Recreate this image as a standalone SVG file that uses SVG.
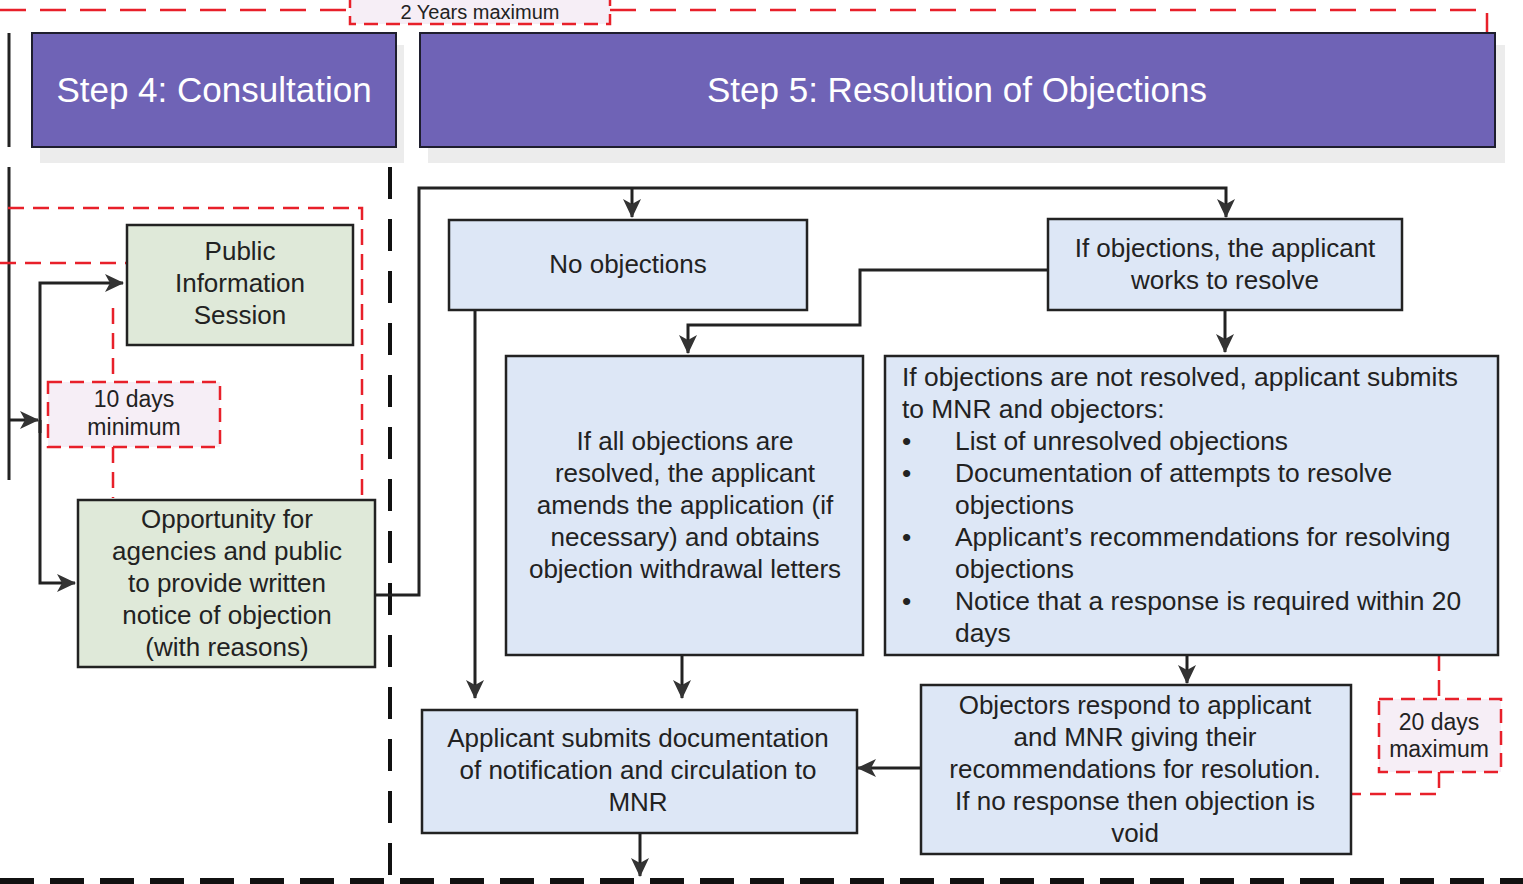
<svg xmlns="http://www.w3.org/2000/svg" width="1523" height="884" viewBox="0 0 1523 884">
<style>
text{font-family:"Liberation Sans",Arial,sans-serif;fill:#222;}
.hdr{fill:#6f63b6;stroke:#1e1e2e;stroke-width:2;}
.hdrt{fill:#fff;font-size:35px;text-anchor:middle;}
.shadow{fill:#ececec;}
.blue{fill:#dde7f6;stroke:#222;stroke-width:2.5;}
.green{fill:#dfe9d9;stroke:#222;stroke-width:2.5;}
.pink{fill:#f6eef6;stroke:#e8202a;stroke-width:2.5;stroke-dasharray:14 8;}
.t{font-size:26px;text-anchor:middle;}
.tl{font-size:26.4px;}
.ts{font-size:23px;text-anchor:middle;}
.conn{fill:none;stroke:#222;stroke-width:3;}
.arr{marker-end:url(#ah);}
.red{fill:none;stroke:#e8202a;stroke-width:2.5;stroke-dasharray:16 9;}
.redtop{fill:none;stroke:#e8202a;stroke-width:2.5;stroke-dasharray:26 14;}
.div{fill:none;stroke:#111;stroke-width:4;stroke-dasharray:32 20;}
.bot{fill:none;stroke:#111;stroke-width:6;stroke-dasharray:34 16;}
</style>
<defs>
<marker id="ah" markerUnits="userSpaceOnUse" markerWidth="20" markerHeight="20" viewBox="0 0 20 20" refX="18" refY="10" orient="auto">
<path d="M0,1 L19,10 L0,19 L5,10 z" fill="#333"/>
</marker>
</defs>
<rect width="1523" height="884" fill="#fff"/>

<g id="frame">
<path class="redtop" d="M0,10 H350 M610,10 H1487 V33"/>
<path class="conn" d="M9,33 V147 M9,167 V480"/>
<path class="div" d="M390,167 V880"/>
<path class="bot" d="M0,881 H1523"/>
<path class="red" d="M8,208 H362 V500"/>
<path class="red" d="M0,263 H127"/>
<path class="red" d="M113,308 V382 M113,447 V498"/>
<path class="red" d="M1439,655 V699 M1439,772 V794 H1351"/>
</g>

<g id="years">
<rect x="350" y="-12" width="260" height="36" class="pink"/>
<text x="480" y="19" class="ts" style="font-size:20px">2 Years maximum</text>
</g>

<g id="step4">
<rect x="40" y="45" width="364" height="118" class="shadow"/>
<rect x="32" y="33" width="364" height="114" class="hdr"/>
<text x="214" y="102" class="hdrt">Step 4: Consultation</text>
</g>
<g id="step5">
<rect x="428" y="45" width="1077" height="118" class="shadow"/>
<rect x="420" y="33" width="1075" height="114" class="hdr"/>
<text x="957" y="102" class="hdrt">Step 5: Resolution of Objections</text>
</g>

<g id="connectors">
<path class="conn arr" d="M10,420 H38"/>
<path class="conn arr" d="M40,433 V283 H123"/>
<path class="conn arr" d="M40,420 V583 H75"/>
<path class="conn arr" d="M375,595 H419 V188 H1226 V217"/>
<path class="conn arr" d="M632,188 V217"/>
<path class="conn arr" d="M1048,270 H860 V325 H688 V353"/>
<path class="conn arr" d="M1225,310 V352"/>
<path class="conn arr" d="M475,310 V698"/>
<path class="conn arr" d="M682,655 V698"/>
<path class="conn arr" d="M1187,655 V683"/>
<path class="conn arr" d="M921,768 H858"/>
<path class="conn arr" d="M640,833 V876"/>
</g>

<g id="public-info">
<rect x="127" y="225" width="226" height="120" class="green"/>
<text class="t" x="240" y="260">Public</text>
<text class="t" x="240" y="292">Information</text>
<text class="t" x="240" y="324">Session</text>
</g>

<g id="ten-days">
<rect x="48" y="382" width="172" height="65" class="pink"/>
<text class="ts" x="134" y="407">10 days</text>
<text class="ts" x="134" y="435">minimum</text>
</g>

<g id="opportunity">
<rect x="78" y="500" width="297" height="167" class="green"/>
<text class="t" x="227" y="528">Opportunity for</text>
<text class="t" x="227" y="560">agencies and public</text>
<text class="t" x="227" y="592">to provide written</text>
<text class="t" x="227" y="624">notice of objection</text>
<text class="t" x="227" y="656">(with reasons)</text>
</g>

<g id="no-objections">
<rect x="449" y="220" width="358" height="90" class="blue"/>
<text class="t" x="628" y="273">No objections</text>
</g>

<g id="if-objections">
<rect x="1048" y="219" width="354" height="91" class="blue"/>
<text class="t" x="1225" y="257">If objections, the applicant</text>
<text class="t" x="1225" y="289">works to resolve</text>
</g>

<g id="all-resolved">
<rect x="506" y="356" width="357" height="299" class="blue"/>
<text class="t" x="685" y="450">If all objections are</text>
<text class="t" x="685" y="482">resolved, the applicant</text>
<text class="t" x="685" y="514">amends the application (if</text>
<text class="t" x="685" y="546">necessary) and obtains</text>
<text class="t" x="685" y="578">objection withdrawal letters</text>
</g>

<g id="not-resolved">
<rect x="885" y="356" width="613" height="299" class="blue"/>
<text class="tl" x="902" y="386">If objections are not resolved, applicant submits</text>
<text class="tl" x="902" y="418">to MNR and objectors:</text>
<text class="tl" x="902" y="450">•</text><text class="tl" x="955" y="450">List of unresolved objections</text>
<text class="tl" x="902" y="482">•</text><text class="tl" x="955" y="482">Documentation of attempts to resolve</text>
<text class="tl" x="955" y="514">objections</text>
<text class="tl" x="902" y="546">•</text><text class="tl" x="955" y="546">Applicant’s recommendations for resolving</text>
<text class="tl" x="955" y="578">objections</text>
<text class="tl" x="902" y="610">•</text><text class="tl" x="955" y="610">Notice that a response is required within 20</text>
<text class="tl" x="955" y="642">days</text>
</g>

<g id="objectors">
<rect x="921" y="685" width="430" height="169" class="blue"/>
<text class="t" x="1135" y="714">Objectors respond to applicant</text>
<text class="t" x="1135" y="746">and MNR giving their</text>
<text class="t" x="1135" y="778">recommendations for resolution.</text>
<text class="t" x="1135" y="810">If no response then objection is</text>
<text class="t" x="1135" y="842">void</text>
</g>

<g id="twenty-days">
<rect x="1379" y="699" width="122" height="73" class="pink"/>
<text class="ts" x="1439" y="730">20 days</text>
<text class="ts" x="1439" y="757">maximum</text>
</g>

<g id="applicant-submits">
<rect x="422" y="710" width="435" height="123" class="blue"/>
<text class="t" x="638" y="747">Applicant submits documentation</text>
<text class="t" x="638" y="779">of notification and circulation to</text>
<text class="t" x="638" y="811">MNR</text>
</g>
</svg>
